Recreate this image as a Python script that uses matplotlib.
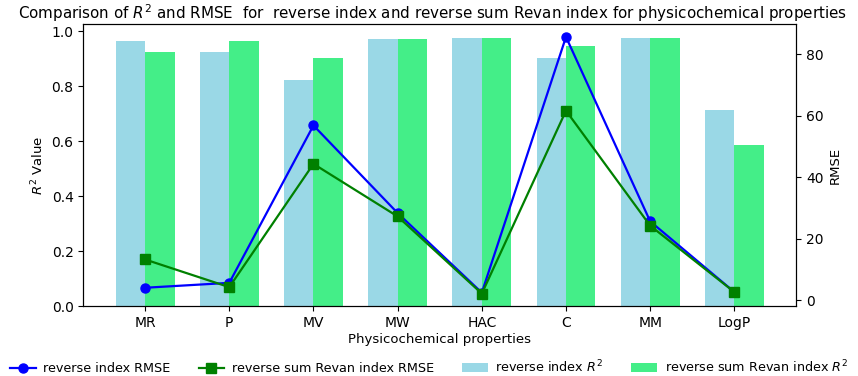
import numpy as np
import matplotlib
matplotlib.use("Agg")
import matplotlib.pyplot as plt

props = ["MR", "P", "MV", "MW", "HAC", "C", "MM", "LogP"]
r2_rev = [0.965, 0.925, 0.822, 0.971, 0.975, 0.904, 0.977, 0.715]
r2_revan = [0.925, 0.965, 0.901, 0.971, 0.977, 0.947, 0.977, 0.587]
rmse_rev = [4.1, 5.7, 56.9, 28.4, 2.5, 85.7, 25.7, 2.7]
rmse_revan = [13.3, 4.3, 44.4, 27.3, 2.2, 61.7, 24.3, 2.7]

x = np.arange(len(props))
w = 0.35

fig, ax = plt.subplots(figsize=(8.58, 3.76), dpi=100)
b1 = ax.bar(x - w/2, r2_rev, w, color="#9AD8E6", label="reverse index $R^2$")
b2 = ax.bar(x + w/2, r2_revan, w, color="#44EE88", label="reverse sum Revan index $R^2$")
ax.set_ylabel("$R^2$ Value", fontsize=9.5)
ax.set_xlabel("Physicochemical properties", fontsize=9.5, labelpad=2)
ax.set_xticks(x)
ax.set_xticklabels(props)

ax2 = ax.twinx()
l1, = ax2.plot(x, rmse_rev, "o-", color="blue", lw=1.6, ms=6.5, label="reverse index RMSE")
l2, = ax2.plot(x, rmse_revan, "s-", color="green", lw=1.6, ms=6.5, label="reverse sum Revan index RMSE")
ax2.set_ylabel("RMSE", fontsize=9.5)

ax.set_title("Comparison of $R^2$ and RMSE  for  reverse index and reverse sum Revan index for physicochemical properties",
             fontsize=10.9, pad=4, x=0.49)
fig.legend([l1, l2, b1, b2], [h.get_label() for h in (l1, l2, b1, b2)],
           loc="lower center", ncol=4, frameon=False, bbox_to_anchor=(0.5, -0.028),
           columnspacing=2.2, fontsize=9.2, handletextpad=0.6)
fig.subplots_adjust(left=0.097, right=0.928, top=0.936, bottom=0.185)
fig.savefig("out.png", dpi=100)
